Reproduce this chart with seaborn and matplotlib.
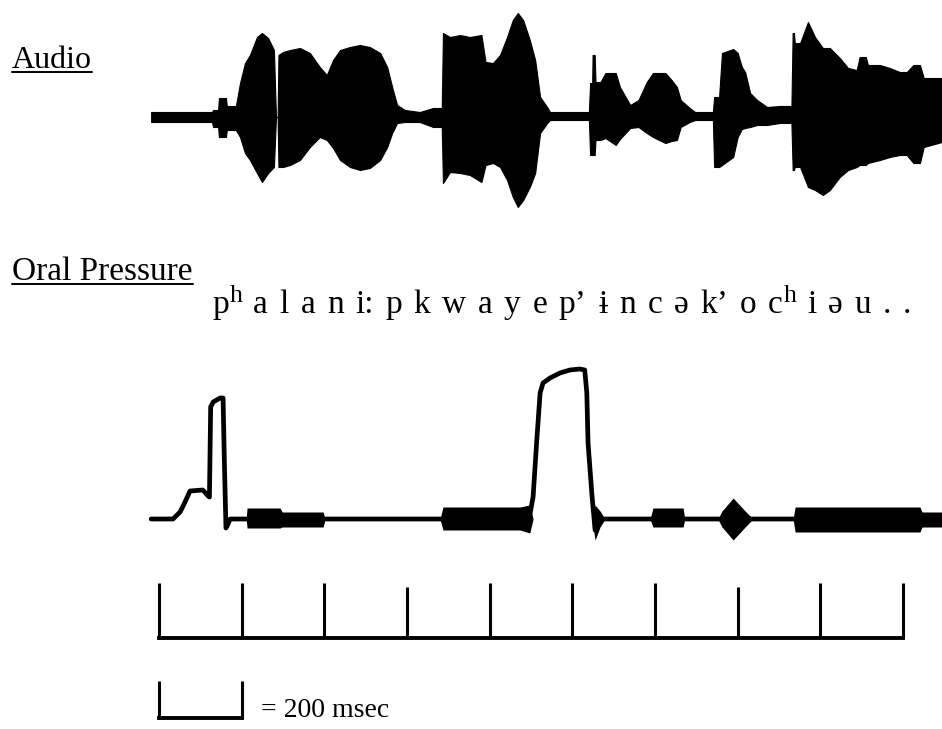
import matplotlib
matplotlib.use("Agg")
import matplotlib.pyplot as plt
from matplotlib.lines import Line2D
import seaborn as sns

# ---------------- data ----------------
# Audio waveform envelope: time (ms), upper and lower amplitude (arbitrary units)
audio_ms = [-19, 63, 128, 131, 143, 145, 162, 164, 186, 196, 208, 220, 237, 249, 264, 278,
            283, 287, 289, 300, 317, 341, 365, 389, 406, 421, 438, 462, 486, 510, 535, 552,
            564, 576, 595, 631, 663, 684, 687, 704, 728, 752, 780, 790, 808, 825, 842, 856,
            868, 881, 897, 910, 922, 939, 946, 1040, 1043, 1048, 1049, 1054, 1056, 1068, 1080,
            1105, 1115, 1140, 1160, 1180, 1195, 1225, 1240, 1253, 1262, 1284, 1297, 1340,
            1343, 1355, 1362, 1389, 1400, 1410, 1418, 1430, 1447, 1471, 1502, 1530, 1533,
            1536, 1538, 1551, 1570, 1587, 1606, 1623, 1647, 1667, 1688, 1695, 1710, 1715,
            1744, 1768, 1792, 1809, 1825, 1841, 1850, 1894]
audio_upper = [5, 5, 5, 7, 7, 19, 19, 11, 11, 34, 54, 62, 80, 84, 79, 67,
               0, 0, 62, 65, 67, 69, 64, 50, 42, 57, 67, 70, 72, 70, 64, 50,
               30, 12, 7, 5, 9, 9, 84, 80, 82, 80, 82, 55, 54, 62, 80, 97,
               104, 97, 77, 57, 20, 10, 5, 5, 34, 34, 62, 62, 35, 35, 44,
               44, 30, 12, 17, 35, 44, 44, 37, 30, 17, 9, 5, 5,
               20, 20, 64, 68, 64, 50, 45, 24, 17, 10, 11, 11, 84,
               84, 74, 74, 95, 80, 69, 69, 59, 49, 47, 60, 60, 52,
               52, 49, 45, 45, 52, 52, 39, 39]
audio_lower = [-5, -5, -5, -10, -10, -20, -20, -13, -13, -20, -36, -43, -56, -65, -56, -50,
               0, 0, -50, -50, -48, -43, -30, -20, -23, -31, -43, -50, -53, -51, -43, -30,
               -16, -6, -5, -5, -10, -10, -66, -55, -56, -58, -65, -48, -46, -50, -63, -80,
               -90, -83, -70, -56, -16, -6, -3, -3, -38, -38, -38, -38, -23, -23, -21,
               -28, -22, -11, -10, -16, -20, -26, -24, -23, -10, -5, -3, -3,
               -50, -50, -48, -40, -20, -12, -11, -10, -8, -8, -6, -6, -53,
               -53, -50, -50, -70, -73, -78, -73, -60, -53, -50, -48, -48, -46,
               -43, -40, -38, -38, -46, -46, -30, -25]

# Oral pressure trace: time (ms), pressure (arbitrary units)
pressure_ms = [-19, 34, 51, 63, 75, 106, 119, 122, 125, 131, 148, 155, 158, 162, 167, 172,
               890, 897, 905, 914, 922, 929, 946, 970, 994, 1018, 1030, 1035, 1038, 1047,
               1055, 1067, 1894]
pressure_val = [0, 0, 7, 17, 28, 29, 23, 22, 112, 117, 121, 121, 60, -9, -5, 0,
                0, 4, 22, 79, 126, 136, 141, 146, 149, 150, 149, 126, 76, 26,
                -11, 0, 0]

# Voicing ripple riding on the pressure baseline: time (ms), extent above / below
ripple_ms = [-19, 211, 213, 293, 298, 397, 402, 680, 687, 873, 897, 905, 1047, 1055, 1067,
             1079, 1188, 1195, 1268, 1272, 1352, 1362, 1389, 1418, 1437, 1534, 1539, 1841,
             1846, 1894]
ripple_up = [0, 0, 11, 11, 7, 7, 0, 0, 12, 12, 14, 0, 0, 14, 8,
             0, 0, 11, 11, 0, 0, 8, 21, 8, 0, 0, 12, 12,
             7, 7]
ripple_down = [0, 0, 9, 9, 8, 8, 0, 0, 11, 11, 14, 0, 0, 21, 8,
               0, 0, 8, 8, 0, 0, 8, 21, 8, 0, 0, 13, 13,
               8, 8]

# Time scale
scale_ticks_ms = [0, 200, 400, 600, 800, 1000, 1200, 1400, 1600, 1800]
scale_tick_len = [1.0, 1.0, 1.0, 0.93, 1.0, 1.0, 1.0, 0.93, 1.0, 1.0]
scale_unit_ms = 200

# Phonetic transcription, one segment per entry: (symbol, superscript)
transcription = [("p", "h"), ("a", None), ("l", None), ("a", None), ("n", None),
                 ("i:", None), ("p", None), ("k", None), ("w", None), ("a", None),
                 ("y", None), ("e", None), ("p’", None), ("ɨ", None), ("n", None),
                 ("c", None), ("ə", None), ("k’", None), ("o", None), ("c", "h"),
                 ("i", None), ("ə", None), ("u", None), (".", None), (".", None)]

# ---------------- figure ----------------
sns.set_theme(style="white")
SERIF = ["Liberation Serif", "DejaVu Serif"]
plt.rcParams["font.family"] = SERIF

W, H = 942, 729
fig = plt.figure(figsize=(W / 100, H / 100), dpi=100)
fig.patch.set_facecolor("white")

MS_PER_PX = 200 / 82.67
X0 = 159
XLIM = (-X0 * MS_PER_PX, (W - X0) * MS_PER_PX)


def band_axes(top, bottom):
    ax = fig.add_axes([0, 1 - bottom / H, 1, (bottom - top) / H])
    ax.set_xlim(*XLIM)
    ax.set_axis_off()
    return ax


# Audio
ax_a = band_axes(0, 230)
ax_a.set_ylim(-113, 117)
ax_a.fill_between(audio_ms, audio_lower, audio_upper, color="black",
                  edgecolor="black", lw=0.8)

# Oral pressure
ax_p = band_axes(330, 560)
ax_p.set_ylim(-41, 189)
ax_p.fill_between(ripple_ms, [-d for d in ripple_down], ripple_up,
                  color="black", lw=0)
sns.lineplot(x=pressure_ms, y=pressure_val, ax=ax_p, color="black", lw=3.4,
             sort=False, estimator=None)
ax_p.set_axis_off()

# Time scale
ax_t = band_axes(560, 670)
ax_t.set_ylim(-(670 - 638) / 55, (638 - 560) / 55)
ax_t.vlines(scale_ticks_ms, 0, scale_tick_len, color="black", lw=2.2)
ax_t.hlines(0, scale_ticks_ms[0], scale_ticks_ms[-1], color="black", lw=2.8,
            capstyle="projecting")

# Scale legend
ax_l = band_axes(670, 729)
ax_l.set_ylim(-(729 - 718) / 37, (718 - 670) / 37)
ax_l.vlines([0, scale_unit_ms], 0, 1, color="black", lw=2.2)
ax_l.hlines(0, 0, scale_unit_ms, color="black", lw=2.8, capstyle="projecting")
ax_l.annotate(f"= {scale_unit_ms} msec", xy=(scale_unit_ms, 0), xytext=(14, 1),
              textcoords="offset points", va="baseline", ha="left",
              fontsize=20, family=SERIF, color="black")

renderer = fig.canvas.get_renderer()


def underlined_label(text, x, y_base, fs):
    t = fig.text(x / W, 1 - y_base / H, text, fontsize=fs, family=SERIF,
                 va="baseline", ha="left", color="black")
    bb = t.get_window_extent(renderer)
    yl = 1 - (y_base + 4) / H
    fig.add_artist(Line2D([bb.x0 / W, bb.x1 / W], [yl, yl], transform=fig.transFigure,
                          color="black", lw=1.4))


underlined_label("Audio", 12, 68, 23)
underlined_label("Oral Pressure", 12, 280, 24)

# Transcription line, symbols spaced evenly, raised h after aspirated stops
x = 212
y_base = 313
fs = 24
gap = 10.6
for base, sup in transcription:
    t = fig.text(x / W, 1 - y_base / H, base, fontsize=fs, family=SERIF,
                 va="baseline", ha="left", color="black")
    x = t.get_window_extent(renderer).x1 + 1
    if sup:
        s = fig.text(x / W, 1 - (y_base - 11) / H, sup, fontsize=fs * 0.78,
                     family=SERIF, va="baseline", ha="left", color="black")
        x = s.get_window_extent(renderer).x1
    x += gap

fig.savefig("out.png", dpi=100, facecolor="white")
